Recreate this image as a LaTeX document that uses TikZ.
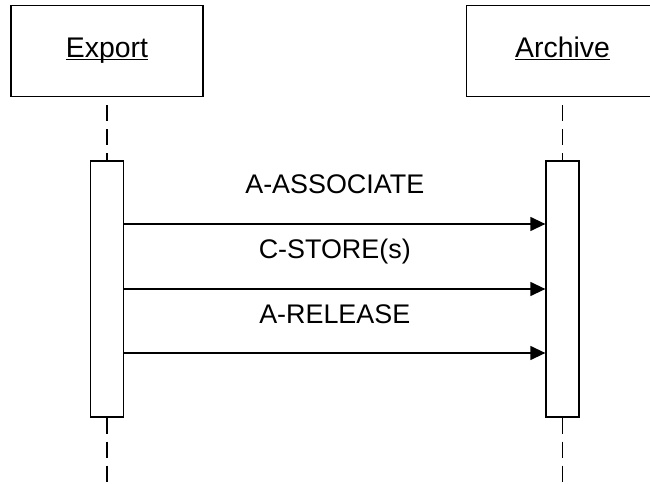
\documentclass[tikz,border=0pt]{standalone}
\usepackage{fontspec}
\setmainfont{Liberation Sans}
\usetikzlibrary{arrows.meta}
\begin{document}
\begin{tikzpicture}[x=1bp,y=-1bp,line width=1.3bp,
	actor/.style={draw,minimum width=192bp,minimum height=91bp,inner sep=0pt,text height=14bp,text depth=0pt,font=\fontsize{28.5}{32}\selectfont},
	bar/.style={draw,fill=white,minimum width=33bp,minimum height=256bp,inner sep=0pt},
	life/.style={dash pattern=on 16bp off 8bp},
	msg/.style={-{Triangle[length=15bp,width=14bp]}},
	lbl/.style={font=\fontsize{27}{31}\selectfont,inner sep=0pt}]
	\useasboundingbox (0,0) rectangle (650,484);
	% draw the actors
	\node[actor] (export) at (107,51) {\underline{\smash{Export}}};
	\node[actor] (archive) at (562.5,51) {\underline{\smash{Archive}}};
	% draw the lifelines
	\coordinate (exportend) at (107,484);
	\coordinate (archiveend) at (562.5,484);
	\node[bar,draw=none,fill=none] (exportbar) at (107,289) {};
	\node[bar,draw=none,fill=none] (archivebar) at (562.5,289) {};
	\draw[life,dash phase=16bp] (export.south) -- (exportbar.north);
	\draw[life,dash phase=16bp] (archive.south) -- (archivebar.north);
	\draw[life] (exportbar.south) -- (exportend);
	\draw[life] (archivebar.south) -- (archiveend);
	% draw the activation bars
	\node[bar] at (exportbar) {};
	\node[bar] at (archivebar) {};
	% draw the messages
	\foreach \y/\name/\txt in {224/assoc/A-ASSOCIATE,289/store/C-STORE(s),353/release/A-RELEASE}{
		\draw[msg] (exportbar.east |- 0,\y) -- (archivebar.west |- 0,\y)
			node[lbl,midway,anchor=base,yshift=30bp] (\name) {\txt};}
\end{tikzpicture}
\end{document}
